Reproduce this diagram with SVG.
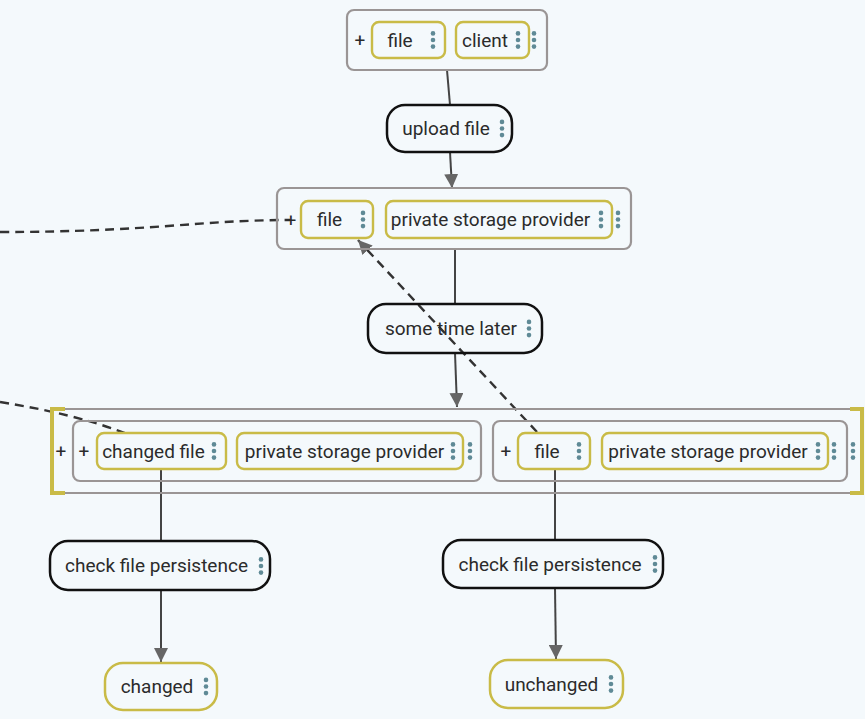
<svg xmlns="http://www.w3.org/2000/svg" xmlns:xlink="http://www.w3.org/1999/xlink" width="865" height="719" viewBox="0 0 865 719">
<style>
text{font-family:Roboto,"Liberation Sans",sans-serif;font-size:19px;fill:#2b2b2b}
.t{text-anchor:middle}
.grp{fill:none;stroke:#9a9595;stroke-width:2.2}
.item{fill:none;stroke:#c9bb47;stroke-width:2.4}
.step{fill:none;stroke:#111;stroke-width:2.5}
.leaf{fill:none;stroke:#c9bb47;stroke-width:2.5}
.bracket{fill:none;stroke:#c9bb47;stroke-width:4}
.edge{fill:none;stroke:#444;stroke-width:2}
.dash{fill:none;stroke:#333;stroke-width:2.4;stroke-dasharray:9,6}
</style>
<defs>
<g id="dots" fill="#5f8a96"><circle cx="0" cy="-6.6" r="2.3"/><circle cx="0" cy="0" r="2.3"/><circle cx="0" cy="6.6" r="2.3"/></g>
<marker id="arr" viewBox="0 0 14 14" refX="14" refY="7" markerWidth="14" markerHeight="14" markerUnits="userSpaceOnUse" orient="auto"><path d="M0,0 L14,7 L0,14 Z" fill="#666"/></marker>
</defs>
<rect width="865" height="719" fill="#f4f9fc"/>

<g id="connectors">
<path class="edge" d="M447,70 L450,105"/>
<path class="edge" d="M450,152 L452,188" marker-end="url(#arr)"/>
<path class="edge" d="M455,249 L455,304"/>
<path class="edge" d="M455,353 L457,407" marker-end="url(#arr)"/>
<path class="edge" d="M161,469 L161,541"/>
<path class="edge" d="M161,590 L161,662" marker-end="url(#arr)"/>
<path class="edge" d="M555,469 L555,540"/>
<path class="edge" d="M555,588 L556,659" marker-end="url(#arr)"/>
<path class="dash" d="M0,232 C150,232 200,220 290,220"/>
<path class="dash" d="M0,402 C50,410 90,420 125,433"/>
<path class="dash" d="M537,432 L358,240" marker-end="url(#arr)"/>
</g>

<g id="node-top">
<rect class="grp" x="347" y="10" width="200" height="60" rx="7"/>
<text class="t" x="360" y="47">+</text>
<rect class="item" x="372" y="22" width="73" height="36" rx="7"/>
<text class="t" x="400" y="46.5">file</text>
<use xlink:href="#dots" x="433" y="40"/>
<rect class="item" x="456" y="22" width="73" height="36" rx="7"/>
<text class="t" x="485" y="46.5">client</text>
<use xlink:href="#dots" x="518" y="40"/>
<use xlink:href="#dots" x="534" y="40"/>
</g>

<g id="node-upload">
<rect class="step" x="387" y="105" width="125" height="47" rx="18"/>
<text class="t" x="446" y="135">upload file</text>
<use xlink:href="#dots" x="502" y="128.5"/>
</g>

<g id="node-stored">
<rect class="grp" x="277" y="188" width="354" height="61" rx="7"/>
<text class="t" x="291" y="226.5">+</text>
<rect class="item" x="301" y="201" width="72" height="37" rx="7"/>
<text class="t" x="329.5" y="226">file</text>
<use xlink:href="#dots" x="363" y="219.5"/>
<rect class="item" x="386" y="201" width="226" height="37" rx="7"/>
<text class="t" x="490.5" y="226">private storage provider</text>
<use xlink:href="#dots" x="601" y="219.5"/>
<use xlink:href="#dots" x="618" y="219.5"/>
</g>

<g id="node-later">
<rect class="step" x="368" y="304" width="174" height="49" rx="18"/>
<text class="t" x="451" y="335">some time later</text>
<use xlink:href="#dots" x="529" y="328.5"/>
</g>

<g id="node-states">
<path class="grp" d="M65,409 H850 M65,493 H850" stroke-width="2.5"/>
<path class="bracket" d="M65,409 H52 V493 H65"/>
<path class="bracket" d="M850,409 H862 V493 H850"/>
<text class="t" x="61" y="458">+</text>
<use xlink:href="#dots" x="853" y="451"/>
</g>

<g id="node-changed-state">
<rect class="grp" x="73" y="421" width="408" height="60" rx="7"/>
<text class="t" x="84" y="458">+</text>
<rect class="item" x="97" y="433" width="129" height="36" rx="7"/>
<text class="t" x="153.5" y="457.5">changed file</text>
<use xlink:href="#dots" x="214" y="451"/>
<rect class="item" x="237" y="433" width="226" height="36" rx="7"/>
<text class="t" x="344.5" y="457.5">private storage provider</text>
<use xlink:href="#dots" x="453" y="451"/>
<use xlink:href="#dots" x="470" y="451"/>
</g>

<g id="node-same-state">
<rect class="grp" x="493" y="421" width="354" height="60" rx="7"/>
<text class="t" x="506" y="458">+</text>
<rect class="item" x="518" y="433" width="72" height="36" rx="7"/>
<text class="t" x="547" y="457.5">file</text>
<use xlink:href="#dots" x="579" y="451"/>
<rect class="item" x="602" y="433" width="226" height="36" rx="7"/>
<text class="t" x="708" y="457.5">private storage provider</text>
<use xlink:href="#dots" x="818" y="451"/>
<use xlink:href="#dots" x="834" y="451"/>
</g>

<g id="node-check-1">
<rect class="step" x="50" y="541" width="220" height="49" rx="18"/>
<text class="t" x="156.5" y="572">check file persistence</text>
<use xlink:href="#dots" x="261" y="566"/>
</g>

<g id="node-check-2">
<rect class="step" x="443" y="540" width="220" height="48" rx="18"/>
<text class="t" x="550" y="570.5">check file persistence</text>
<use xlink:href="#dots" x="655" y="564"/>
</g>

<g id="node-changed">
<rect class="leaf" x="105" y="663" width="112" height="47" rx="18"/>
<text class="t" x="157" y="693">changed</text>
<use xlink:href="#dots" x="206" y="686.5"/>
</g>

<g id="node-unchanged">
<rect class="leaf" x="490" y="660" width="133" height="48" rx="18"/>
<text class="t" x="551.5" y="690.5">unchanged</text>
<use xlink:href="#dots" x="611" y="684"/>
</g>
</svg>
